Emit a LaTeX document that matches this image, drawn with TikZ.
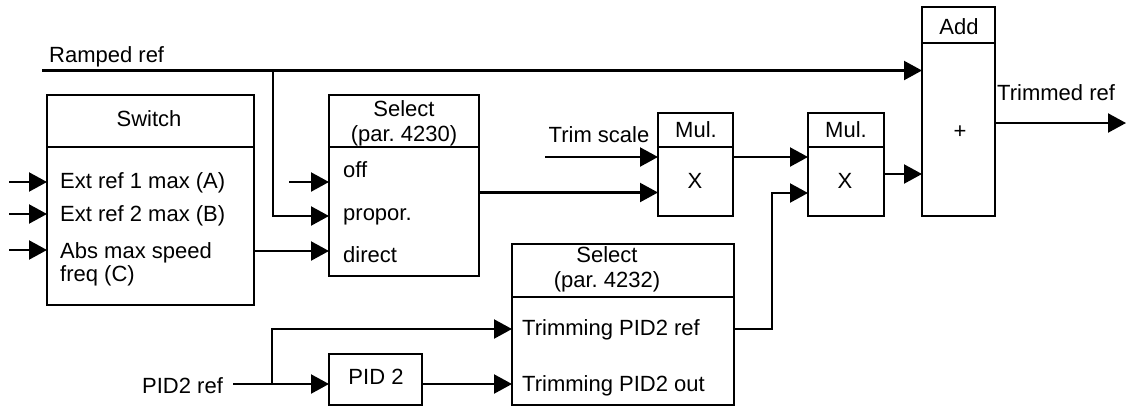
\documentclass[tikz,border=0pt]{standalone}
\usepackage{fontspec}
\setmainfont{Liberation Sans}
\usetikzlibrary{arrows.meta}
\begin{document}
\frenchspacing
\begin{tikzpicture}[x=1pt,y=-1pt,
  font=\fontsize{22}{23}\selectfont,
  box/.style={draw, line width=2.2pt, inner sep=0pt, outer sep=0pt},
  wire/.style={line width=2.2pt},
  arr/.style={wire, -{Triangle[length=18pt,width=19pt]}},
  lbl/.style={inner sep=0pt, anchor=base west},
  ctr/.style={inner sep=0pt, anchor=base},
  hdr/.style={inner sep=0pt, anchor=base, align=center, font=\fontsize{22}{25}\selectfont}]
\useasboundingbox (0,0) rectangle (1127,407);

% ---- boxes ----
\node[box, minimum width=207pt, minimum height=210pt] (sw) at (150.5,200) {};
\node[box, minimum width=150pt, minimum height=181pt] (s1) at (404,185.5) {};
\node[box, minimum width=75pt, minimum height=103pt] (m1) at (695.5,164.5) {};
\node[box, minimum width=76pt, minimum height=103pt] (m2) at (846,164.5) {};
\node[box, minimum width=73pt, minimum height=209pt] (add) at (958.5,111.5) {};
\node[box, minimum width=222pt, minimum height=161pt] (s2) at (623,324.5) {};
\node[box, minimum width=93pt, minimum height=51pt] (pid) at (375.5,379.5) {};

% ---- dividers ----
\draw[wire] (sw.west |- 0,147) -- (sw.east |- 0,147);
\draw[wire] (s1.west |- 0,147) -- (s1.east |- 0,147);
\draw[wire] (m1.west |- 0,147) -- (m1.east |- 0,147);
\draw[wire] (m2.west |- 0,147) -- (m2.east |- 0,147);
\draw[wire] (add.west |- 0,43) -- (add.east |- 0,43);
\draw[wire] (s2.west |- 0,297) -- (s2.east |- 0,297);

% ---- texts ----
\node[lbl] (rrt) at (49,62) {Ramped ref};
\node[ctr] (swt) at (149,126) {Switch};
\node[lbl] (e1) at (60,188) {Ext ref 1 max (A)};
\node[lbl] (e2) at (60,221) {Ext ref 2 max (B)};
\node[lbl, align=left] (e3) at (60,281) {Abs max speed\\freq (C)};
\node[hdr] (s1t) at (404,141) {Select\\(par. 4230)};
\node[lbl] (off) at (343,177) {off};
\node[lbl] (prop) at (343,220) {propor.};
\node[lbl] (dir) at (343,262) {direct};
\node[ctr] (tst) at (599,142) {Trim scale};
\node[ctr] (m1t) at (696,137) {Mul.};
\node[ctr] (m1x) at (695,188) {X};
\node[ctr] (m2t) at (846,137) {Mul.};
\node[ctr] (m2x) at (845,188) {X};
\node[ctr] (addt) at (959,34) {Add};
\node[ctr] (plus) at (960,138) {+};
\node[lbl] (trt) at (997,100) {Trimmed ref};
\node[hdr] (s2t) at (607,287) {Select\\(par. 4232)};
\node[lbl] (tref) at (522,335) {Trimming PID2 ref};
\node[lbl] (tout) at (522,391) {Trimming PID2 out};
\node[ctr] (pidt) at (376,384) {PID 2};
\node[lbl] (prt) at (142,393) {PID2 ref};

% ---- free ends ----
\coordinate (rr0) at (42,70.5);
\coordinate (rrb) at (273,70.5);
\coordinate (i1) at (9,182);
\coordinate (i2) at (9,214);
\coordinate (i3) at (9,250);
\coordinate (ioff) at (289,182);
\coordinate (ts) at (545,157);
\coordinate (out) at (1126,123);
\coordinate (pr) at (233,384);
\coordinate (prb) at (272,384);

% ---- connectors ----
\draw[arr] (rr0) -- (add.west |- rr0);
\draw[arr] (rrb) |- (s1.west |- 0,216);
\draw[arr] (i1) -- (sw.west |- i1);
\draw[arr] (i2) -- (sw.west |- i2);
\draw[arr] (i3) -- (sw.west |- i3);
\draw[arr] (ioff) -- (s1.west |- ioff);
\draw[arr] (sw.east |- 0,251) -- (s1.west |- 0,251);
\draw[arr] (s1.east |- 0,192.5) -- (m1.west |- 0,192.5);
\draw[arr] (ts) -- (m1.west |- ts);
\draw[arr] (m1.east |- 0,157) -- (m2.west |- 0,157);
\draw[arr] (s2.east |- 0,329) -- ++(38,0) |- (m2.west |- 0,193);
\draw[arr] (m2.east |- 0,174) -- (add.west |- 0,174);
\draw[arr] (add.east |- out) -- (out);
\draw[wire] (pr) -- (prb);
\draw[arr] (prb) -- (pid.west |- pr);
\draw[arr] (prb) |- (s2.west |- 0,329);
\draw[arr] (pid.east |- 0,384) -- (s2.west |- 0,384);
\end{tikzpicture}
\end{document}
